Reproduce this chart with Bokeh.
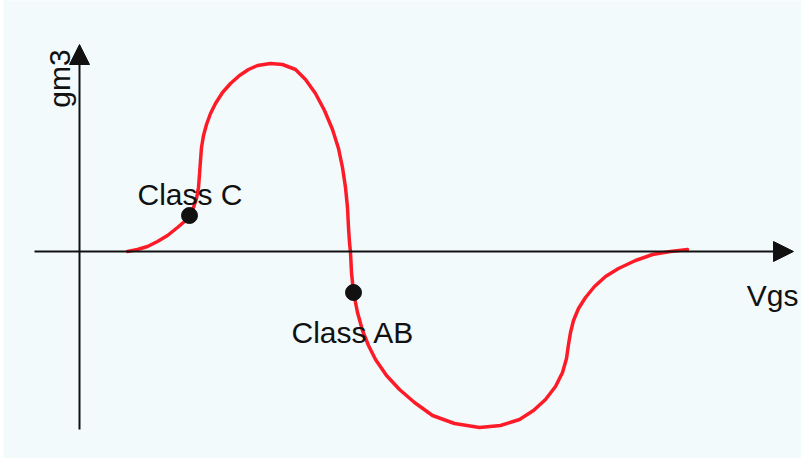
from bokeh.plotting import figure
from bokeh.models import Arrow, NormalHead, Range1d, ColumnDataSource
from bokeh.core.properties import value
from bokeh.embed import file_html
from bokeh.resources import INLINE
import math

# gm3 vs Vgs curve (arbitrary units)
curve_x = [0.48, 0.58, 0.68, 0.78, 0.88, 0.98, 1.05, 1.10, 1.14, 1.17, 1.19, 1.20, 1.21, 1.22,
           1.24, 1.27, 1.31, 1.36, 1.43, 1.51, 1.60, 1.69, 1.78, 1.91, 2.03, 2.16, 2.26, 2.36,
           2.45, 2.53, 2.59, 2.63, 2.66, 2.68, 2.69, 2.70, 2.71, 2.72, 2.74, 2.78, 2.83, 2.89,
           2.96, 3.07, 3.20, 3.35, 3.53, 3.75, 4.00, 4.21, 4.40, 4.54, 4.66, 4.76, 4.83, 4.87,
           4.89, 4.91, 4.94, 4.99, 5.06, 5.15, 5.26, 5.39, 5.56, 5.73, 5.91, 6.08]
curve_y = [0.00, 0.02, 0.05, 0.10, 0.16, 0.24, 0.30, 0.36, 0.44, 0.53, 0.64, 0.77, 0.91, 1.04,
           1.16, 1.27, 1.38, 1.48, 1.59, 1.68, 1.76, 1.82, 1.86, 1.88, 1.87, 1.82, 1.72, 1.58,
           1.41, 1.22, 1.03, 0.84, 0.64, 0.44, 0.24, 0.09, -0.01, -0.21, -0.41, -0.61, -0.79, -0.94,
           -1.08, -1.24, -1.38, -1.51, -1.64, -1.72, -1.76, -1.74, -1.68, -1.59, -1.48, -1.35, -1.21, -1.07,
           -0.93, -0.81, -0.69, -0.57, -0.46, -0.35, -0.25, -0.17, -0.09, -0.03, 0.00, 0.02]

# marked operating points
point_x = [1.10, 2.74]
point_y = [0.36, -0.41]
point_labels = ["Class C", "Class AB"]
label_x = [0.58, 2.12]
label_y = [0.57, -0.81]

# axis arrows
x_axis_start, x_axis_end = -0.45, 7.14
y_axis_start, y_axis_end = -1.78, 2.07
x_title, y_title = "Vgs", "gm3"

BG = "#f2fafc"
RED = "#fe1b28"
INK = "#111111"
FONT = "Liberation Sans"

p = figure(width=801, height=458, output_backend="svg", toolbar_location=None,
           x_range=Range1d(-0.76, 7.22), y_range=Range1d(-2.07, 2.51),
           min_border_left=3, min_border_right=0, min_border_top=0, min_border_bottom=0,
           background_fill_color=BG, border_fill_color="white", outline_line_color=None)
p.axis.visible = False
p.grid.visible = False

# axes with arrow heads
p.add_layout(Arrow(x_start=x_axis_start, y_start=0, x_end=x_axis_end, y_end=0,
                   line_color=INK, line_width=2,
                   end=NormalHead(size=20, fill_color=INK, line_color=INK, line_width=1)))
p.add_layout(Arrow(x_start=0, y_start=y_axis_start, x_end=0, y_end=y_axis_end,
                   line_color=INK, line_width=2,
                   end=NormalHead(size=20, fill_color=INK, line_color=INK, line_width=1)))

p.line(curve_x, curve_y, line_color=RED, line_width=3.5, line_join="round", line_cap="round")

p.scatter(point_x, point_y, size=16, fill_color=INK, line_color=INK)

src = ColumnDataSource(dict(x=label_x, y=label_y, t=point_labels))
p.text(x="x", y="y", text="t", source=src, text_font=value(FONT), text_font_size="30px",
       text_color=INK, text_align="left", text_baseline="alphabetic")

p.text(x=[7.19], y=[-0.44], text=[x_title], text_font=value(FONT), text_font_size="30px",
       text_color=INK, text_align="right", text_baseline="alphabetic")
p.text(x=[-0.20], y=[1.73], text=[y_title], angle=math.pi / 2, text_font=value(FONT),
       text_font_size="30px", text_color=INK, text_align="center", text_baseline="alphabetic")

open("out.html", "w").write(file_html(p, INLINE))
